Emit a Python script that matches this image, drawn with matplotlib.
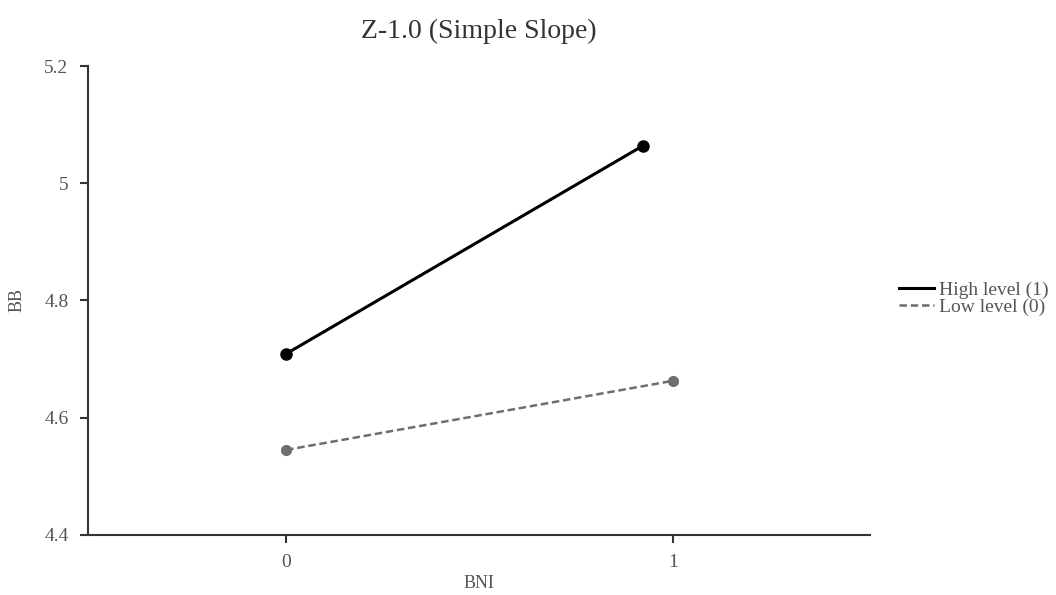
import matplotlib
matplotlib.use("Agg")
import matplotlib.pyplot as plt
from matplotlib.lines import Line2D

# simple slope values
high_x = [0, 0.922]
high_y = [4.709, 5.064]
low_x = [0, 1]
low_y = [4.545, 4.663]
y_ticks = [4.4, 4.6, 4.8, 5, 5.2]
y_tick_labels = ["4.4", "4.6", "4.8", "5", "5.2"]
x_ticks = [0, 1]
x_tick_labels = ["0", "1"]

plt.rcParams["font.family"] = ["Liberation Serif", "DejaVu Serif"]

fig = plt.figure(figsize=(10.56, 5.95), dpi=100)
ax = fig.add_axes([0.0833, 0.101, 0.7407, 0.788])

ax.plot(high_x, high_y, color="black", lw=2.2, marker="o", ms=8)
ax.plot(low_x, low_y, color="#6e6e6e", lw=1.8, ls=(0, (3, 1.5)), marker="o", ms=7)

ax.set_xlim(-0.512, 1.509)
ax.set_ylim(4.4, 5.2)
ax.set_yticks(y_ticks)
ax.set_yticklabels(y_tick_labels)
ax.set_xticks(x_ticks)
ax.set_xticklabels(x_tick_labels)
ax.tick_params(labelsize=14, labelcolor="#555555", colors="#333333", length=6, width=1.5)
ax.tick_params(axis="y", pad=8)
ax.tick_params(axis="x", pad=8)

for s in ["top", "right"]:
    ax.spines[s].set_visible(False)
for s in ["left", "bottom"]:
    ax.spines[s].set_linewidth(1.5)
    ax.spines[s].set_color("#333333")

ax.set_title("Z-1.0 (Simple Slope)", fontsize=20, color="#333333", pad=20)
ax.set_xlabel("BNI", fontsize=13, color="#555555")
ax.set_ylabel("BB", fontsize=13, color="#555555")
ax.xaxis.set_label_coords(0.5, -0.085)
ax.yaxis.set_label_coords(-0.08, 0.5)

handles = [Line2D([], [], color="black", lw=2.2),
           Line2D([], [], color="#6e6e6e", lw=1.8, ls=(0, (3, 1.5)))]
fig.legend(handles, ["High level (1)", "Low level (0)"], loc="center left",
           bbox_to_anchor=(0.851, 0.498), frameon=False, fontsize=14,
           handlelength=1.8, handletextpad=0.3, labelspacing=0.0, labelcolor="#555555",
           borderaxespad=0, borderpad=0)

fig.savefig("out.png", dpi=100)
